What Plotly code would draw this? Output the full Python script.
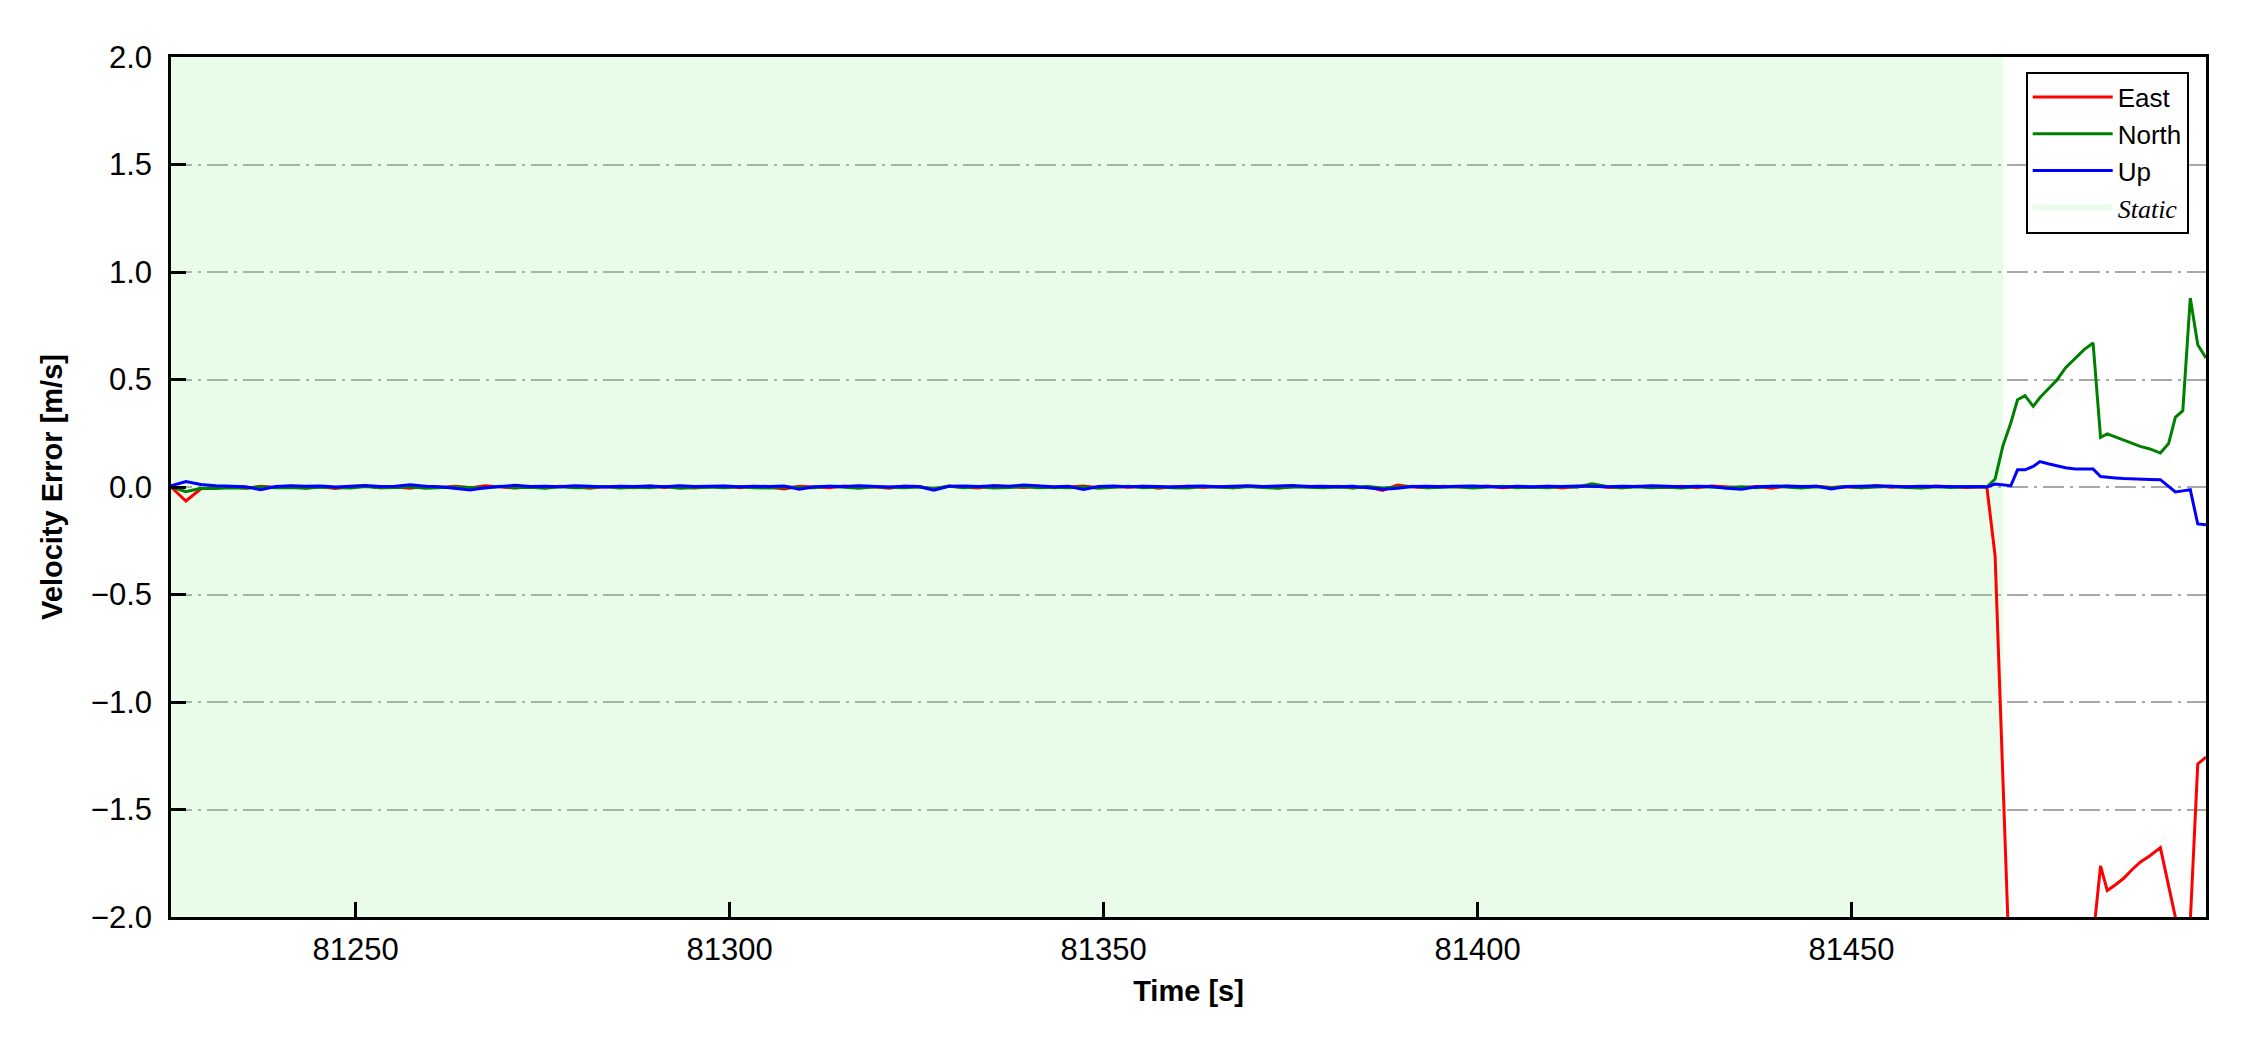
import numpy as np
import plotly.graph_objects as go

# ---------------- data ----------------
# static part sampled every 2 s
t_static = np.arange(81225.3, 81467.4, 2.0)
east_static = [
    0.000, -0.065, -0.008, -0.004, 0.002, -0.006, 0.003, -0.002, 0.004, -0.005,
    0.001, -0.007, 0.002, 0.005, -0.003, 0.000, -0.006, 0.004, -0.002, 0.003,
    -0.004, 0.006, -0.001, -0.005, 0.002, -0.003, 0.004, 0.001, -0.006, 0.002,
    0.000, -0.004, 0.005, -0.002, 0.003, -0.005, 0.001, 0.004, -0.003, 0.002,
    -0.001, -0.009, 0.003, 0.000, -0.004, 0.005, -0.002, 0.001, -0.006, 0.003,
    0.002, -0.012, 0.004, -0.001, -0.005, 0.006, 0.001, -0.002, 0.003, -0.004,
    0.000, 0.005, -0.003, 0.002, -0.001, 0.004, -0.006, 0.001, 0.003, -0.002,
    0.002, -0.004, 0.003, 0.001, -0.003, 0.001, 0.004, -0.002, 0.003, -0.005,
    0.001, -0.016, 0.009, 0.000, -0.004, 0.003, 0.002, -0.001, 0.005, -0.003,
    0.001, -0.002, 0.004, -0.005, 0.002, 0.007, -0.001, -0.003, 0.004, 0.000,
    -0.002, 0.003, -0.004, 0.005, 0.001, -0.003, 0.002, -0.006, 0.004, 0.000,
    0.003, -0.002, 0.001, -0.004, 0.006, -0.001, 0.002, -0.003, 0.005, 0.001,
    -0.002, 0.000,
]
north_static = [
    0.000, -0.022, -0.006, -0.007, -0.003, -0.005, 0.001, -0.004, -0.002, -0.006,
    0.000, -0.003, -0.005, 0.002, -0.004, -0.002, 0.001, -0.006, -0.003, 0.000,
    -0.002, -0.005, 0.003, -0.004, -0.001, -0.006, 0.001, -0.003, -0.002, 0.002,
    -0.005, -0.001, -0.003, 0.002, -0.006, -0.002, 0.000, -0.004, 0.001, -0.003,
    -0.005, 0.000, -0.002, -0.004, 0.003, -0.003, -0.006, 0.001, -0.002, -0.004,
    0.000, -0.008, 0.005, -0.003, 0.001, -0.005, -0.002, 0.002, -0.004, -0.001,
    -0.003, 0.001, -0.006, -0.002, 0.003, -0.004, 0.000, -0.003, -0.005, 0.002,
    -0.001, -0.004, 0.002, -0.003, -0.006, 0.001, -0.002, -0.004, 0.000, -0.003,
    0.002, -0.005, -0.001, 0.004, -0.003, -0.002, 0.001, -0.005, -0.002, 0.003,
    -0.004, 0.000, -0.003, 0.002, -0.001, 0.015, 0.002, -0.004, 0.001, -0.003,
    0.000, -0.005, 0.002, -0.002, -0.004, 0.001, -0.003, 0.004, -0.002, -0.005,
    0.001, -0.003, 0.002, -0.004, 0.000, 0.003, -0.002, -0.005, 0.001, -0.002,
    0.002, 0.000,
]
up_static = [
    0.005, 0.025, 0.012, 0.006, 0.004, 0.001, -0.013, 0.002, 0.006, 0.003,
    0.005, 0.000, 0.004, 0.007, 0.002, 0.004, 0.010, 0.003, 0.001, -0.008,
    -0.014, -0.004, 0.003, 0.008, 0.002, 0.004, 0.001, 0.006, 0.003, 0.000,
    0.004, 0.002, 0.005, 0.001, 0.006, 0.002, 0.003, 0.005, 0.001, 0.004,
    0.002, 0.005, -0.010, 0.001, 0.004, 0.002, 0.006, 0.003, 0.000, 0.004,
    0.002, -0.015, 0.003, 0.005, 0.002, 0.006, 0.003, 0.009, 0.004, 0.001,
    0.003, -0.012, 0.002, 0.005, 0.001, 0.004, 0.002, 0.000, 0.003, 0.005,
    0.001, 0.004, 0.006, 0.002, 0.003, 0.007, 0.002, 0.004, 0.001, 0.003,
    -0.004, -0.010, -0.006, 0.002, 0.004, 0.001, 0.003, 0.005, 0.002, 0.000,
    0.003, 0.001, 0.004, 0.002, 0.005, 0.003, 0.001, 0.004, 0.002, 0.006,
    0.003, 0.001, 0.004, 0.002, -0.006, -0.010, 0.001, 0.003, 0.005, 0.002,
    0.004, -0.009, 0.002, 0.004, 0.006, 0.003, 0.001, 0.004, 0.002, 0.003,
    0.001, 0.002,
]

# dynamic part
t_dyn = [81468.1, 81469.2, 81470.25, 81471.3, 81472.2, 81473.2, 81474.3, 81475.2,
         81476.3, 81477.5, 81478.6, 81479.9, 81481.1, 81482.3, 81483.3, 81484.2,
         81485.3, 81486.4, 81487.5, 81488.6, 81489.9, 81491.3, 81492.4, 81493.3,
         81494.3, 81495.3, 81496.3, 81497.4]
east_dyn = [0.0, -0.32, -1.42, -2.52, -3.3, -3.8, -4.1, -4.0, -3.8, -3.5,
            -3.1, -2.8, -2.45, -2.1, -1.762, -1.877, -1.85, -1.82, -1.78, -1.745,
            -1.715, -1.677, -1.855, -2.0, -2.2, -2.02, -1.288, -1.256]
north_dyn = [0.0, 0.037, 0.192, 0.298, 0.406, 0.425, 0.375, 0.416, 0.456, 0.499,
             0.554, 0.600, 0.639, 0.670, 0.231, 0.247, 0.232, 0.217, 0.203, 0.189,
             0.177, 0.158, 0.202, 0.324, 0.355, 0.879, 0.662, 0.600]
up_dyn = [0.0, 0.014, 0.010, 0.006, 0.080, 0.080, 0.096, 0.118, 0.108, 0.099,
          0.090, 0.084, 0.084, 0.084, 0.049, 0.045, 0.042, 0.039, 0.037, 0.036,
          0.035, 0.034, 0.003, -0.023, -0.018, -0.013, -0.172, -0.176]

static_start = 81225.3
static_end = 81470.3
y_range = [-2.0, 2.0]
y_ticks = [-2.0, -1.5, -1.0, -0.5, 0.0, 0.5, 1.0, 1.5, 2.0]
x_ticks = [81250, 81300, 81350, 81400, 81450]

t = list(t_static) + t_dyn
east = east_static + east_dyn
north = north_static + north_dyn
up = up_static + up_dyn

# ---------------- figure ----------------
SANS = "Liberation Sans, Arial, Helvetica, sans-serif"
fig = go.Figure()

fig.add_trace(go.Scatter(
    x=[static_start, static_end, static_end, static_start, static_start],
    y=[y_range[0], y_range[0], y_range[1], y_range[1], y_range[0]],
    fill="toself", fillcolor="rgba(144,238,144,0.2)", mode="none",
    name='<span style="font-family:\'Liberation Serif\', \'Times New Roman\', serif"><i>Static</i></span>',
    legendrank=4, hoverinfo="skip"))

for name, ys, col, rank in [("East", east, "#ff0000", 1),
                            ("North", north, "#008000", 2),
                            ("Up", up, "#0000ff", 3)]:
    fig.add_trace(go.Scatter(x=t, y=ys, mode="lines", name=name,
                             line=dict(color=col, width=3), legendrank=rank))

fig.update_layout(
    width=2234, height=1034,
    margin=dict(l=163, r=36, t=49, b=125),
    paper_bgcolor="white", plot_bgcolor="white",
    font=dict(family=SANS, color="black", size=31),
    showlegend=True,
    legend=dict(x=0.9915, y=0.983, xanchor="right", yanchor="top",
                bgcolor="white", bordercolor="black", borderwidth=2,
                font=dict(size=26, family=SANS), itemwidth=80,
                tracegroupgap=0),
)
fig.update_xaxes(
    range=[t[0], t[-1]], tickvals=x_ticks, tickformat="d",
    ticks="inside", ticklen=15, tickwidth=2.5, tickcolor="black",
    showline=True, linecolor="black", linewidth=2.5, mirror=True,
    showgrid=False, zeroline=False, ticklabelstandoff=3,
    title=dict(text="<b>Time [s]</b>", font=dict(size=29), standoff=15),
    tickfont=dict(size=31),
)
fig.update_yaxes(
    range=y_range, tickvals=y_ticks, tickformat=".1f",
    ticks="inside", ticklen=15, tickwidth=2.5, tickcolor="black",
    showline=True, linecolor="black", linewidth=2.5, mirror=True,
    showgrid=True, gridcolor="#a8a8a8", gridwidth=2, griddash="21px,6px,3px,6px",
    zeroline=False, ticklabelstandoff=10,
    title=dict(text="<b>Velocity Error [m/s]</b>", font=dict(size=29), standoff=20),
    tickfont=dict(size=31),
)

fig.write_html("out.html")
